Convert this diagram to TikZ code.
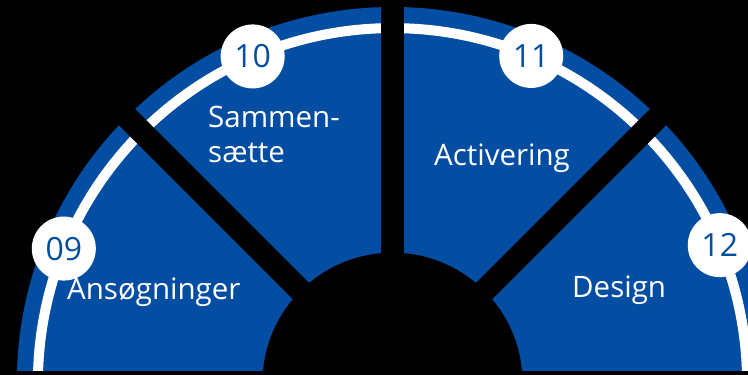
\documentclass[tikz,border=0pt]{standalone}
\usepackage{fontspec}
\setmainfont{Open Sans}
\definecolor{segblue}{HTML}{034EA2}
\tikzset{
  numcirc/.style={circle,fill=white,minimum size=64pt,inner sep=0pt,text=segblue,font=\fontsize{32}{32}\selectfont},
  seglabel/.style={text=white,font=\fontsize{29.5}{35}\selectfont,anchor=base west,inner sep=0pt,align=left},
  gap/.style={black,line width=23pt}
}
\begin{document}
\begin{tikzpicture}[x=1pt,y=1pt]
\useasboundingbox (0,0) rectangle (748,375);
\fill[black] (0,0) rectangle (748,375);
\coordinate (C) at (392.5,-7.7);
% blue half disk
\fill[segblue] (C) ++(0:375.7) arc[start angle=0,end angle=180,radius=375.7] -- cycle;
% white ring
\draw[white,line width=10pt] (C) ++(0:354.6) arc[start angle=0,end angle=180,radius=354.6];
% bottom strip
\fill[black] (0,0) rectangle (748,4);
% gaps
\draw[gap] (C) -- ++(45:420);
\draw[gap] (C) -- ++(90:420);
\draw[gap] (C) -- ++(135:420);
% inner disk
\fill[black] (C) circle[radius=130];
% number circles
\node[numcirc] (n09) at ([shift={(157.8:355)}]C) {09};
\node[numcirc] (n10) at ([shift={(113.2:355)}]C) {10};
\node[numcirc] (n11) at ([shift={(67:355)}]C) {11};
\node[numcirc] (n12) at ([shift={(22.8:355)}]C) {12};
% labels
\node[seglabel] (l09) at (67,75) {Ansøgninger};
\node[seglabel] (l10) at (208,212) {Sammen-\\sætte};
\node[seglabel] (l11) at (434,209) {Activering};
\node[seglabel] (l12) at (572,77) {Design};
\end{tikzpicture}
\end{document}
